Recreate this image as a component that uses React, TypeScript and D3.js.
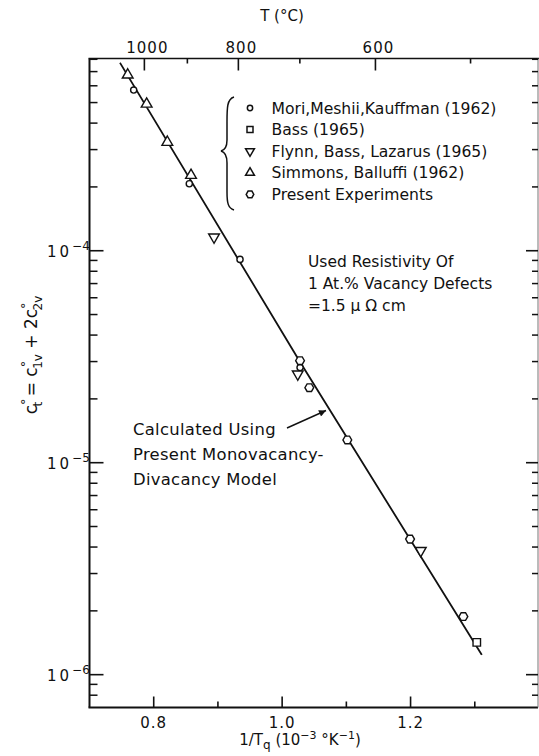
import React from "react";
import * as d3 from "d3";

// Quench data: x = 1/Tq (10^-3 K^-1), y = total vacancy concentration
const moriMeshiiKauffman: [number, number][] = [
  [0.7688, 5.73e-4],
  [0.8554, 2.07e-4],
  [0.9344, 9.1e-5],
  [1.0279, 2.81e-5],
];
const bass: [number, number][] = [[1.3031, 1.42e-6]];
const flynnBassLazarus: [number, number][] = [
  [0.8939, 1.16e-4],
  [1.0243, 2.62e-5],
  [1.2159, 3.85e-6],
];
const simmonsBalluffi: [number, number][] = [
  [0.7595, 6.75e-4],
  [0.789, 4.92e-4],
  [0.8212, 3.25e-4],
  [0.8581, 2.27e-4],
];
const presentExperiments: [number, number][] = [
  [1.0279, 3.03e-5],
  [1.0423, 2.26e-5],
  [1.1015, 1.28e-5],
  [1.1992, 4.36e-6],
  [1.2822, 1.88e-6],
];
// Calculated monovacancy-divacancy curve
const modelCurve: [number, number][] = [
  [0.7475, 7.7e-4],
  [1.0279, 2.985e-5],
  [1.3109, 1.24e-6],
];

const bottomMajor = [0.8, 1.0, 1.2];
const bottomMinor = [0.9, 1.1, 1.3];
const topMajorC = [1000, 800, 600];
const topMinorC = [900, 700, 500];
const yMajor = [1e-6, 1e-5, 1e-4];
const yMajorExp = ["−6", "−5", "−4"];

const legendLabels = [
  "Mori,Meshii,Kauffman (1962)",
  "Bass (1965)",
  "Flynn, Bass, Lazarus (1965)",
  "Simmons, Balluffi (1962)",
  "Present Experiments",
];
const legendKinds = ["circle", "square", "down", "up", "hex"];

const noteLines = ["Used Resistivity Of", "1 At.% Vacancy Defects", "=1.5 μ Ω cm"];
const modelLines = ["Calculated Using", "Present Monovacancy-", "Divacancy Model"];

const FONT = "'DejaVu Sans', Verdana, sans-serif";

function hexPath(r: number) {
  const pts = d3.range(6).map((i) => {
    const a = (Math.PI / 3) * i;
    return [r * Math.cos(a), r * Math.sin(a)];
  });
  return "M" + pts.map((p) => p.join(",")).join("L") + "Z";
}

function markerPath(kind: string, size: number) {
  if (kind === "circle") return d3.symbol(d3.symbolCircle, size)()!;
  if (kind === "square") return d3.symbol(d3.symbolSquare, size)()!;
  if (kind === "up" || kind === "down") return d3.symbol(d3.symbolTriangle, size)()!;
  return hexPath(size);
}

export default function App() {
  const W = 539;
  const H = 756;
  const x = d3.scaleLinear().domain([0.7, 1.4]).range([89.5, 539]);
  const y = d3.scaleLog().domain([7.0e-7, 8.07e-4]).range([707.5, 58.5]);
  const left = 89.5;
  const right = 538;
  const top = 58.5;
  const bottom = 707.5;

  const minorY: number[] = [];
  for (let e = -7; e <= -4; e++) {
    for (let m = 2; m <= 9; m++) {
      const v = m * Math.pow(10, e);
      if (v > 7.0e-7 && v < 8.07e-4) minorY.push(v);
    }
  }
  const invT = (c: number) => 1000 / (c + 273.15);

  const line = d3
    .line<[number, number]>()
    .x((d) => x(d[0]))
    .y((d) => y(d[1]))
    .curve(d3.curveNatural);

  const series: [string, [number, number][], number][] = [
    ["circle", moriMeshiiKauffman, 30],
    ["square", bass, 56],
    ["down", flynnBassLazarus, 50],
    ["up", simmonsBalluffi, 50],
    ["hex", presentExperiments, 4.4],
  ];

  const stroke = "#111";

  return (
    <svg
      width={W}
      height={H}
      style={{ position: "absolute", left: 0, top: 0, background: "#fff" }}
      fontFamily={FONT}
    >
      <rect x={0} y={0} width={W} height={H} fill="#fff" />
      {/* frame */}
      <line x1={left} y1={top} x2={left} y2={bottom} stroke={stroke} strokeWidth={2} />
      <line x1={left - 1} y1={bottom} x2={right} y2={bottom} stroke={stroke} strokeWidth={2} />
      <line x1={left - 1} y1={top} x2={W} y2={top} stroke={stroke} strokeWidth={1.6} />
      <line x1={right} y1={top} x2={right} y2={bottom} stroke="#777" strokeWidth={1} />

      {/* left + right log ticks */}
      {yMajor.map((v, i) => (
        <g key={"ym" + i}>
          <line x1={left} x2={left + 14} y1={y(v)} y2={y(v)} stroke={stroke} strokeWidth={1.6} />
          <line x1={right - 12} x2={right} y1={y(v)} y2={y(v)} stroke={stroke} strokeWidth={1.6} />
          <text x={47} y={y(v) + 6} fontSize={15} letterSpacing={3} fill="#111">
            10
            <tspan fontSize={12} letterSpacing={0} dy={-7}>
              {yMajorExp[i]}
            </tspan>
          </text>
        </g>
      ))}
      {minorY.map((v, i) => (
        <g key={"yn" + i}>
          <line x1={left} x2={left + 8} y1={y(v)} y2={y(v)} stroke={stroke} strokeWidth={1.5} />
          <line x1={right - 6} x2={right} y1={y(v)} y2={y(v)} stroke={stroke} strokeWidth={1.5} />
        </g>
      ))}

      {/* bottom axis */}
      {bottomMajor.map((v) => (
        <g key={"bm" + v}>
          <line x1={x(v)} x2={x(v)} y1={bottom} y2={bottom - 11} stroke={stroke} strokeWidth={1.6} />
          <text x={x(v)} y={728} textAnchor="middle" fontSize={15} letterSpacing={1} fill="#111">
            {v.toFixed(1)}
          </text>
        </g>
      ))}
      {bottomMinor.map((v) => (
        <line key={"bn" + v} x1={x(v)} x2={x(v)} y1={bottom} y2={bottom - 6} stroke={stroke} strokeWidth={1.6} />
      ))}
      <text x={300} y={745} textAnchor="middle" fontSize={15} fill="#111">
        1/T
        <tspan fontSize={12} dy={4}>q</tspan>
        <tspan dy={-4}>{"  (10"}</tspan>
        <tspan fontSize={11} dy={-6}>−3</tspan>
        <tspan dy={6}>{" °K"}</tspan>
        <tspan fontSize={11} dy={-6}>−1</tspan>
        <tspan dy={6}>)</tspan>
      </text>

      {/* top axis, temperature in °C */}
      {topMajorC.map((c) => (
        <g key={"tm" + c}>
          <line x1={x(invT(c))} x2={x(invT(c))} y1={top} y2={top + 12} stroke={stroke} strokeWidth={1.6} />
          <text x={x(invT(c)) + 3} y={52.5} textAnchor="middle" fontSize={15} letterSpacing={1} fill="#111">
            {c}
          </text>
        </g>
      ))}
      {topMinorC.map((c) => (
        <line key={"tn" + c} x1={x(invT(c))} x2={x(invT(c))} y1={top} y2={top + 5} stroke={stroke} strokeWidth={1.6} />
      ))}
      <text x={282} y={21} textAnchor="middle" fontSize={15} fill="#111">
        T (°C)
      </text>

      {/* y label */}
      <text transform="translate(37,355) rotate(-90)" textAnchor="middle" fontSize={17} fill="#111">
        c<tspan fontSize={13} dy={-7}>°</tspan>
        <tspan fontSize={12} dx={-8} dy={12}>t</tspan>
        <tspan dy={-5}>{"  =  c"}</tspan>
        <tspan fontSize={13} dy={-7}>°</tspan>
        <tspan fontSize={12} dx={-8} dy={12}>1v</tspan>
        <tspan dy={-5}>{"  +  2c"}</tspan>
        <tspan fontSize={13} dy={-7}>°</tspan>
        <tspan fontSize={12} dx={-8} dy={12}>2v</tspan>
      </text>

      {/* model curve */}
      <path d={line(modelCurve)!} fill="none" stroke={stroke} strokeWidth={1.8} />

      {/* data markers */}
      {series.map(([kind, pts, size]) =>
        pts.map((p, i) => (
          <path
            key={kind + i}
            d={markerPath(kind, size)}
            transform={`translate(${x(p[0])},${y(p[1])})${kind === "down" ? " rotate(180)" : ""}`}
            fill="#fff"
            stroke={stroke}
            strokeWidth={1.4}
          />
        ))
      )}

      {/* legend */}
      <path
        d="M234,97 C227,99 227,108 227,122 L227,140 C227,147 225,150 221,151 C225,152 227,156 227,163 L227,192 C227,203 228,208 234,210"
        fill="none"
        stroke={stroke}
        strokeWidth={1.5}
      />
      {legendLabels.map((lab, i) => {
        const cy = 108 + i * 21.6;
        const kind = legendKinds[i];
        const size = kind === "circle" ? 22 : kind === "square" ? 36 : kind === "hex" ? 3.8 : 34;
        return (
          <g key={lab}>
            <path
              d={markerPath(kind, size)}
              transform={`translate(250,${cy})${kind === "down" ? " rotate(180)" : ""}`}
              fill="#fff"
              stroke={stroke}
              strokeWidth={1.5}
            />
            <text x={271.5} y={cy + 5.5} fontSize={15.6} fill="#111">
              {lab}
            </text>
          </g>
        );
      })}

      {/* resistivity note */}
      {noteLines.map((t, i) => (
        <text key={t} x={308} y={267 + i * 22} fontSize={15.5} fill="#111">
          {t}
        </text>
      ))}

      {/* model annotation with arrow */}
      {modelLines.map((t, i) => (
        <text key={t} x={133} y={435 + i * 25} fontSize={16.4} letterSpacing={0.3} fill="#111">
          {t}
        </text>
      ))}
      <defs>
        <marker id="arrowHead" viewBox="0 0 10 10" refX={10} refY={5} markerWidth={9} markerHeight={7} orient="auto" markerUnits="userSpaceOnUse">
          <path d="M0,0 L10,5 L0,10 Z" fill={stroke} />
        </marker>
      </defs>
      <line x1={287} y1={428} x2={326} y2={410.5} stroke={stroke} strokeWidth={1.4} markerEnd="url(#arrowHead)" />
    </svg>
  );
}
